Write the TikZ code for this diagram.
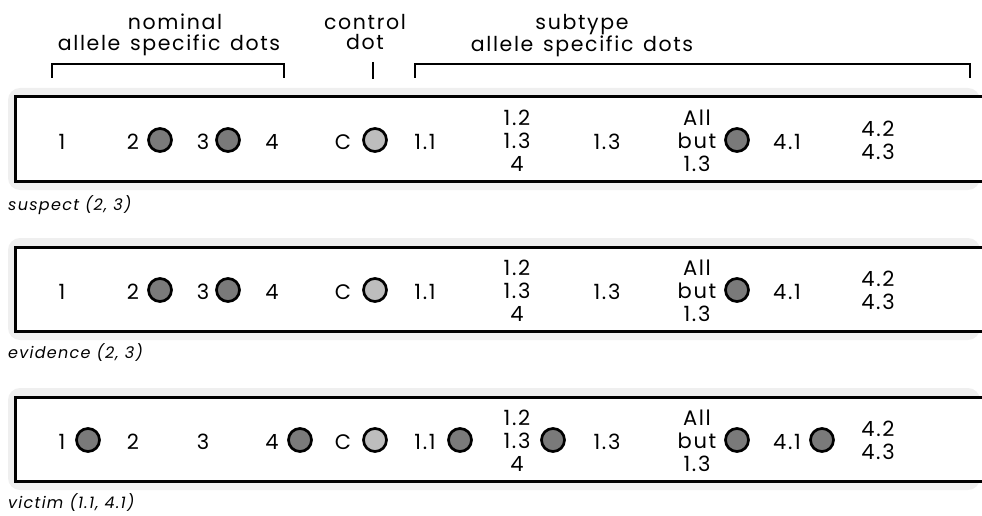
\documentclass[tikz,border=0pt]{standalone}
\usepackage{fontspec}
\setmainfont{Poppins}[LetterSpace=8, WordSpace=1.35]
\newfontfamily\capfont{Poppins}[LetterSpace=8]
\definecolor{dotdark}{HTML}{7A7A7A}
\definecolor{dotlight}{HTML}{BDBDBD}
\definecolor{stripgray}{HTML}{EFEFEF}
\tikzset{
  lab/.style={font=\fontsize{21}{23}\selectfont, inner sep=0pt, align=center},
  head/.style={font=\fontsize{20.5}{20.5}\selectfont, inner sep=0pt, align=center, anchor=north},
  stripcaption/.style={font=\capfont\fontsize{16}{18}\selectfont\itshape, inner sep=0pt, anchor=west},
  darkdot/.style={circle, draw=black, line width=2.7pt, fill=dotdark, minimum size=23pt, inner sep=0pt},
  lightdot/.style={circle, draw=black, line width=2.7pt, fill=dotlight, minimum size=23pt, inner sep=0pt},
  bracketline/.style={line width=2.5pt},
  stripline/.style={line width=3pt},
}
\newcommand\stripbase{%
  \fill[stripgray, rounded corners=12pt] (8,88) rectangle (980,190);
  \fill[white] (15,97) rectangle (990,181);
  \draw[stripline] (990,97) -- (15,97) -- (15,181) -- (990,181);
  \node[lab] (t1) at (62,142) {1};
  \node[lab] (t2) at (133,142) {2};
  \node[lab] (t3) at (203,142) {3};
  \node[lab] (t4) at (272,142) {4};
  \node[lab] (tc) at (343,142) {C};
  \node[lightdot] (dc) at (375,140) {};
  \node[lab] (t11) at (425,142) {1.1};
  \node[lab] (t12) at (517,141) {1.2\\1.3\\4};
  \node[lab] (t13) at (607,142) {1.3};
  \node[lab] (tall) at (697,141) {All\\but\\1.3};
  \node[darkdot] (dall) at (737,140) {};
  \node[lab] (t41) at (787,142) {4.1};
  \node[lab] (t42) at (878,140) {4.2\\4.3};
}
\begin{document}
\begin{tikzpicture}[x=1pt,y=-1pt]
\useasboundingbox (0,0) rectangle (982,516);
% header
\node[head] (nom) at (169,14) {\hspace*{12pt}nominal\\allele specific dots};
\node[head] (ctl) at (365,14) {control\\dot};
\node[head] (sub) at (582,14) {subtype\\allele specific dots};
\draw[bracketline] (52,78) -- (52,64) -- (284,64) -- (284,78);
\draw[bracketline] (415,78) -- (415,64) -- (970,64) -- (970,78);
\draw[line width=1.2pt] (373,62) -- (373,79);
% strip 1: suspect
\begin{scope}[name prefix=a-]
  \stripbase
  \node[darkdot] (d2) at (160,140) {};
  \node[darkdot] (d3) at (228,140) {};
  \node[stripcaption] (lab) at (8,205) {suspect (2, 3)};
\end{scope}
% strip 2: evidence
\begin{scope}[shift={(0,150)}, name prefix=b-]
  \stripbase
  \node[darkdot] (d2) at (160,140) {};
  \node[darkdot] (d3) at (228,140) {};
  \node[stripcaption] (lab) at (8,203) {evidence (2, 3)};
\end{scope}
% strip 3: victim
\begin{scope}[shift={(0,300)}, name prefix=c-]
  \stripbase
  \node[darkdot] (d1) at (88,140) {};
  \node[darkdot] (d4) at (300,140) {};
  \node[darkdot] (d11) at (460,140) {};
  \node[darkdot] (d12) at (553,140) {};
  \node[darkdot] (d41) at (822,140) {};
  \node[stripcaption] (lab) at (8,203) {victim (1.1, 4.1)};
\end{scope}
\end{tikzpicture}
\end{document}
